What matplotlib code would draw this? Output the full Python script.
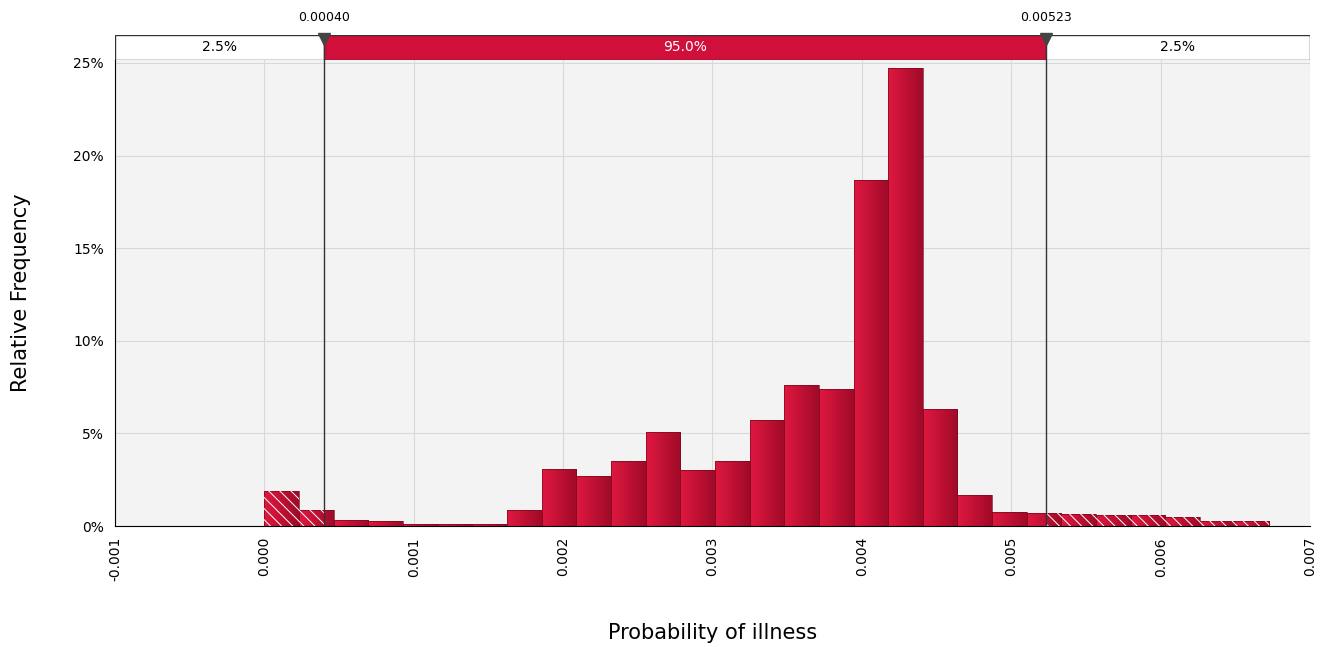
import numpy as np
import matplotlib.pyplot as plt
from matplotlib.patches import Rectangle
from matplotlib.colors import LinearSegmentedColormap

# histogram data (relative frequency, %)
bin_start = 0.0
bin_width = 0.000232
freq = [1.9, 0.85, 0.3, 0.25, 0.1, 0.1, 0.1, 0.85, 3.1, 2.7, 3.5, 5.1, 3.0, 3.5,
        5.7, 7.6, 7.4, 18.7, 24.7, 6.3, 1.7, 0.75, 0.7, 0.65, 0.6, 0.6, 0.5, 0.25, 0.25]
lo_cut = 0.00040
hi_cut = 0.00523
xticks = [-0.001, 0.000, 0.001, 0.002, 0.003, 0.004, 0.005, 0.006, 0.007]
yticks = [0, 5, 10, 15, 20, 25]

plt.rcParams['hatch.linewidth'] = 0.7
red = '#d0103a'
cmap = LinearSegmentedColormap.from_list('g', ['#e01840', '#a00a28'])

fig = plt.figure(figsize=(13.21, 6.47), dpi=100)
ax = fig.add_axes([0.087, 0.187, 0.9047, 0.7203])
ax.set_facecolor('#f3f3f3')
ax.set_xlim(-0.001, 0.007)
ax.set_ylim(0, 25.16)
ax.grid(True, color='#d8d8d8', lw=0.8)
ax.set_axisbelow(True)

grad = np.linspace(0, 1, 64).reshape(1, -1)
for i, h in enumerate(freq):
    x0 = bin_start + i * bin_width
    x1 = x0 + bin_width
    im = ax.imshow(grad, cmap=cmap, extent=[x0, x1, 0, h], aspect='auto', zorder=2)
    r = Rectangle((x0, 0), bin_width, h, fill=False, ec='#7a0a1e', lw=0.5, zorder=3)
    ax.add_patch(r)
    im.set_clip_path(r)
    # hatched tails
    for a, b in [(x0, min(x1, lo_cut)), (max(x0, hi_cut), x1)]:
        if b > a:
            ax.add_patch(Rectangle((a, 0), b - a, h, fill=False, hatch='\\\\\\',
                                   ec='white', lw=0, zorder=4))

for c in (lo_cut, hi_cut):
    ax.axvline(c, color='#333333', lw=1, zorder=5)

ax.set_xticks(xticks)
ax.set_xticklabels([f'{t:.3f}' for t in xticks], rotation=90, fontsize=10)
ax.set_yticks(yticks)
ax.set_yticklabels([f'{t}%' for t in yticks], fontsize=10)
ax.tick_params(length=0, pad=8)
for s in ['top', 'right']:
    ax.spines[s].set_visible(False)
ax.set_xlabel('Probability of illness', fontsize=15, labelpad=30)
ax.set_ylabel('Relative Frequency', fontsize=15, labelpad=30)

# top strip
sx = fig.add_axes([0.087, 0.9073, 0.9047, 0.0387])
sx.set_xlim(-0.001, 0.007)
sx.set_ylim(0, 1)
sx.axis('off')
sx.add_patch(Rectangle((-0.001, 0), lo_cut + 0.001, 1, fc='white', ec='#333333', lw=1))
sx.add_patch(Rectangle((lo_cut, 0), hi_cut - lo_cut, 1, fc=red, ec='#333333', lw=1))
sx.add_patch(Rectangle((hi_cut, 0), 0.007 - hi_cut, 1, fc='white', ec='#333333', lw=1))
sx.text((-0.001 + lo_cut) / 2, 0.5, '2.5%', ha='center', va='center', fontsize=10)
sx.text((lo_cut + hi_cut) / 2, 0.5, '95.0%', ha='center', va='center', fontsize=10, color='white')
sx.text((hi_cut + 0.007) / 2, 0.5, '2.5%', ha='center', va='center', fontsize=10)
for c in (lo_cut, hi_cut):
    sx.plot([c], [0.85], marker='v', ms=9, color='#444444', clip_on=False)
    sx.text(c, 1.45, f'{c:.5f}', ha='center', va='bottom', fontsize=9)

fig.savefig('out.png', dpi=100)
